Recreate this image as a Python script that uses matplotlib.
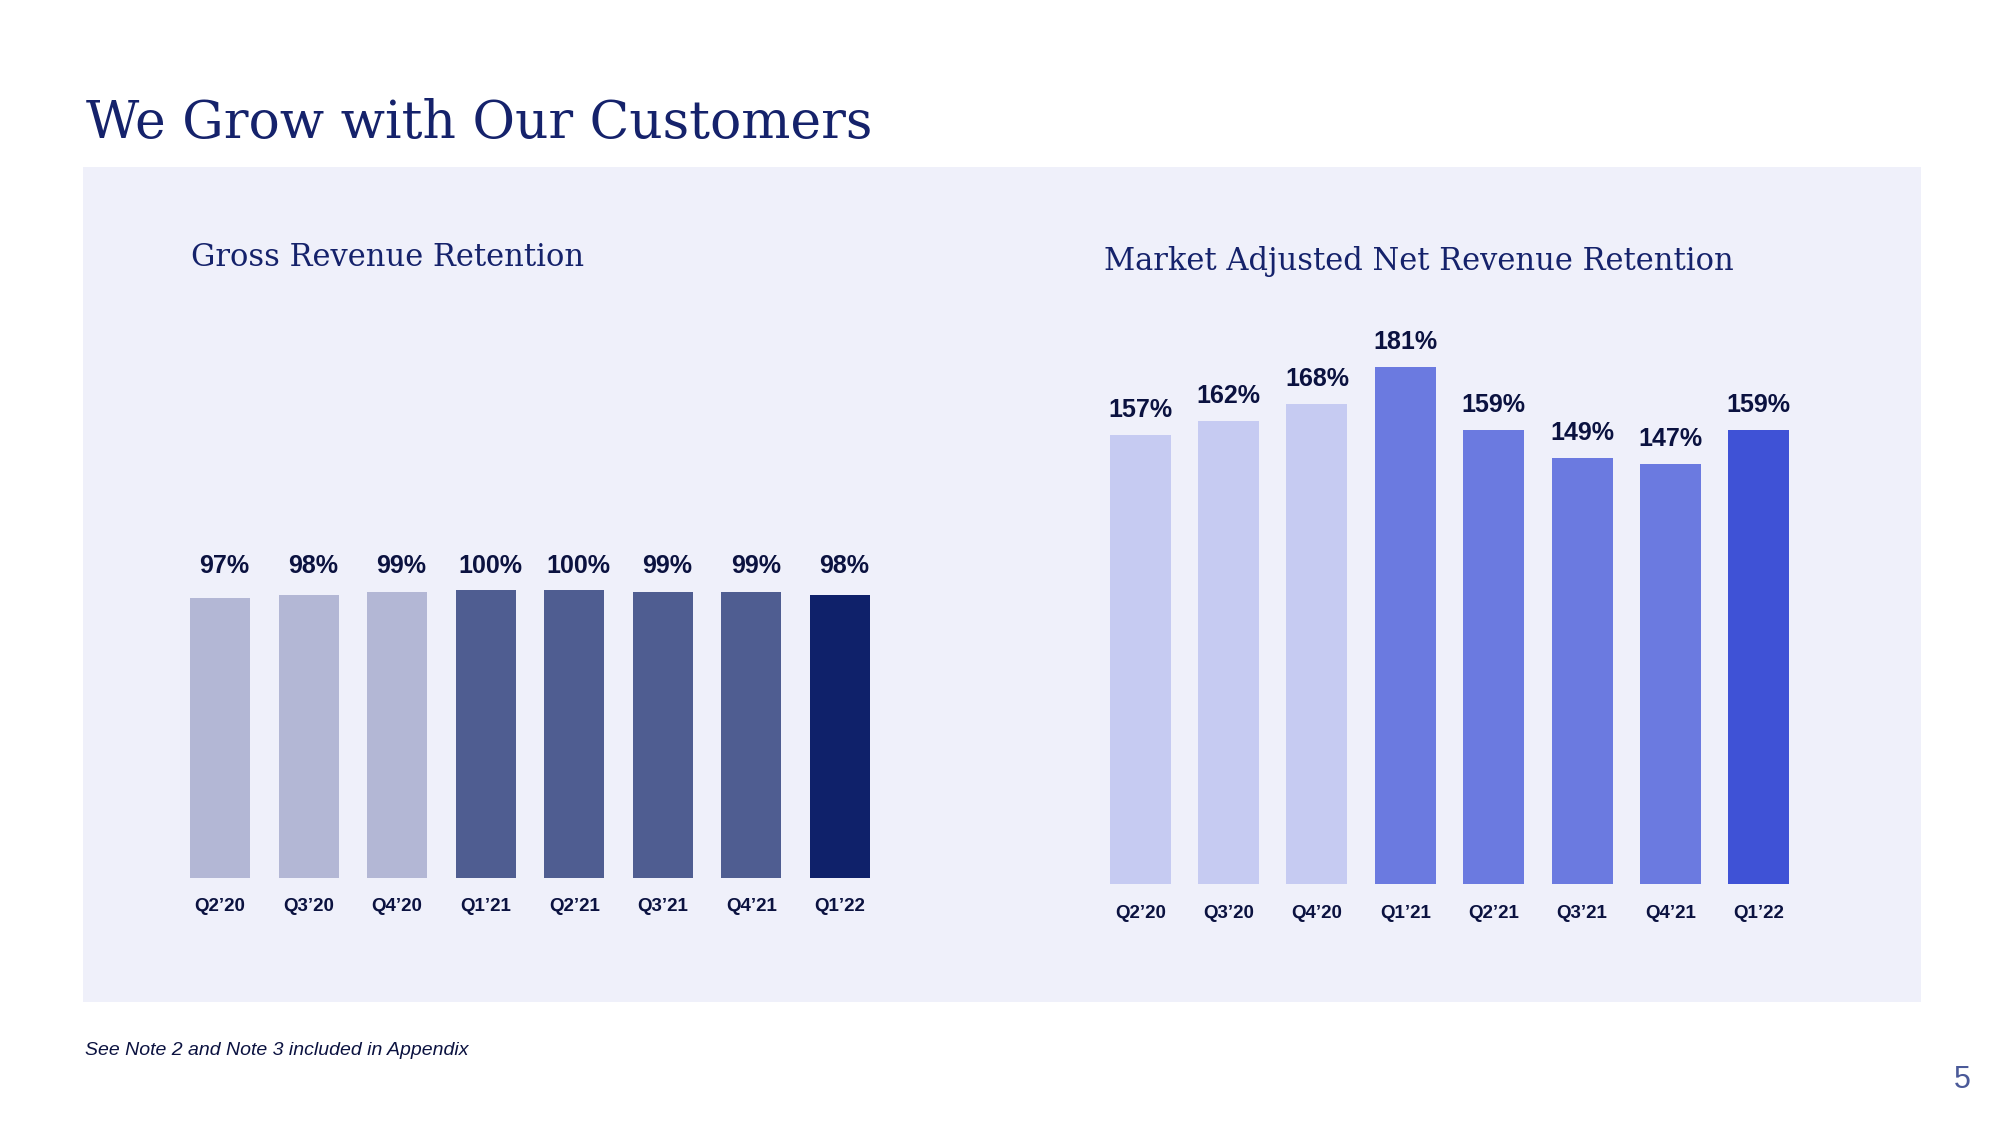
import matplotlib
matplotlib.use("Agg")
import matplotlib.pyplot as plt
from matplotlib.patches import Rectangle

# data
quarters = ["Q2\u201920", "Q3\u201920", "Q4\u201920", "Q1\u201921",
            "Q2\u201921", "Q3\u201921", "Q4\u201921", "Q1\u201922"]
grr = [97, 98, 99, 100, 100, 99, 99, 98]
nrr = [157, 162, 168, 181, 159, 149, 147, 159]

# colour groups: 2020, 2021, latest quarter
grr_colors = ["#B3B7D5"] * 3 + ["#4F5D91"] * 4 + ["#0F216A"]
nrr_colors = ["#C6CBF2"] * 3 + ["#6B7AE0"] * 4 + ["#3F52D6"]

NAVY = "#15226B"
LABEL = "#0B1240"
PANEL = "#EFF0FA"
SERIF = "DejaVu Serif"
SANS = "Liberation Sans"

fig = plt.figure(figsize=(20, 11.25), dpi=100)
fig.patch.set_facecolor("white")

# light panel behind both charts
fig.patches.append(Rectangle((0.0415, 0.109), 0.919, 0.743, transform=fig.transFigure,
                             facecolor=PANEL, edgecolor="none", zorder=-5))

fig.text(0.0432, 0.877, "We Grow with Our Customers", fontsize=37.4, family=SERIF,
         color=NAVY, va="baseline")
fig.text(0.0957, 0.764, "Gross Revenue Retention", fontsize=22, family=SERIF,
         color=NAVY, va="baseline")
fig.text(0.552, 0.760, "Market Adjusted Net Revenue Retention", fontsize=22, family=SERIF,
         color=NAVY, va="baseline")

fig.text(0.0425, 0.066, "See Note 2 and Note 3 included in Appendix", fontsize=14,
         family=SANS, style="italic", color=LABEL, va="center")
fig.text(0.981, 0.040, "5", fontsize=22, family=SANS, color="#4B5A99",
         ha="center", va="center")


def style_axes(ax):
    ax.set_facecolor("none")
    for s in ax.spines.values():
        s.set_visible(False)
    ax.set_yticks([])
    ax.set_xlim(-0.5, 7.5)
    ax.set_ylim(0, 200)
    ax.set_xticks(range(len(quarters)))
    ax.set_xticklabels(quarters, fontsize=13.5, fontweight="bold", family=SANS, color=LABEL)
    ax.tick_params(axis="x", length=0, pad=15)


# left: gross revenue retention
ax1 = fig.add_axes([0.0879, 0.2199, 0.3542, 0.512])
style_axes(ax1)
ax1.bar(range(len(grr)), grr, width=0.68, color=grr_colors)
for i, v in enumerate(grr):
    ax1.text(i + 0.05, 108.2, f"{v}%", ha="center", va="center", fontsize=18,
             fontweight="bold", family=SANS, color=LABEL)

# right: market adjusted net revenue retention
ax2 = fig.add_axes([0.548, 0.2142, 0.3535, 0.508])
style_axes(ax2)
ax2.bar(range(len(nrr)), nrr, width=0.69, color=nrr_colors)
for i, v in enumerate(nrr):
    ax2.annotate(f"{v}%", (i, v), xytext=(0, 18), textcoords="offset points",
                 ha="center", va="center", fontsize=18, fontweight="bold",
                 family=SANS, color=LABEL)

fig.savefig("out.png", dpi=100)
